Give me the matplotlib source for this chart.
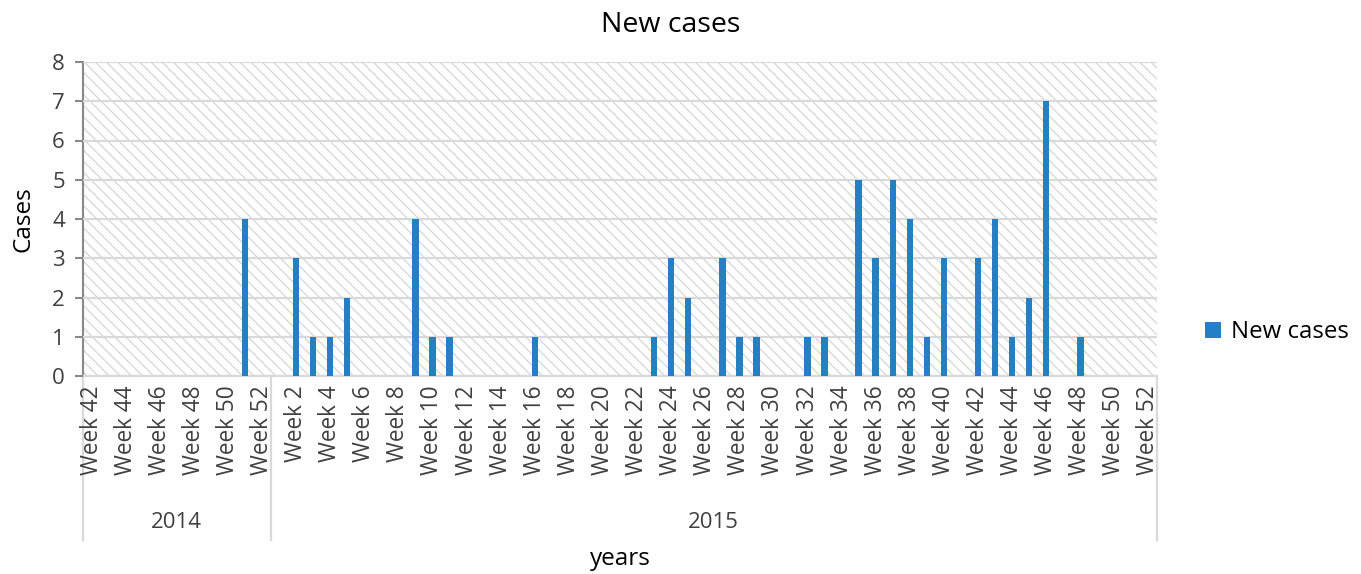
import numpy as np
import matplotlib
matplotlib.use('Agg')
import matplotlib.pyplot as plt
from matplotlib.patches import Rectangle
import matplotlib.transforms as mtransforms

# dados
semanas_2014 = [42, 43, 44, 45, 46, 47, 48, 49, 50, 51, 52]
casos_2014 = [0, 0, 0, 0, 0, 0, 0, 0, 0, 4, 0]
semanas_2015 = list(range(1, 53))
casos_2015 = [0, 3, 1, 1, 2, 0, 0, 0, 4, 1,
              1, 0, 0, 0, 0, 1, 0, 0, 0, 0,
              0, 0, 1, 3, 2, 0, 3, 1, 1, 0,
              0, 1, 1, 0, 5, 3, 5, 4, 1, 3,
              0, 3, 4, 1, 2, 7, 0, 1, 0, 0,
              0, 0]
anos = ['2014', '2015']

rotulos = ['Week %d' % s for s in semanas_2014 + semanas_2015]
casos = casos_2014 + casos_2015
x = np.arange(len(casos))

plt.rcParams['font.family'] = ['Open Sans', 'DejaVu Sans']
plt.rcParams['hatch.linewidth'] = 0.9
plt.rcParams['hatch.color'] = '#d6d6d6'

fig = plt.figure(figsize=(13.61, 5.74), dpi=100)
ax = fig.add_axes([83 / 1361, 1 - 376 / 574, (1157 - 83) / 1361, (376 - 62) / 574])

# fundo hachurado
ax.add_patch(Rectangle((0, 0), 1, 1, transform=ax.transAxes, facecolor='white',
                       edgecolor='#d6d6d6', hatch='\\\\\\', linewidth=0, zorder=0))

ax.bar(x, casos, width=0.38, color='#2580c3', label='New cases', zorder=3)

ax.set_xlim(-0.5, len(casos) - 0.5)
ax.set_ylim(0, 8)
ax.set_yticks(range(0, 9))
ax.grid(axis='y', color='#d9d9d9', linewidth=1.6, zorder=1)
ax.set_axisbelow(False)

ax.set_xticks(x[::2])
ax.set_xticklabels(rotulos[::2], rotation=90, fontsize=16.3, color='#404040')
ax.tick_params(axis='x', length=0, pad=7)
ax.tick_params(axis='y', length=6, width=1.5, color='#888888', labelsize=16,
               labelcolor='#404040', pad=7)

for lado in ['top', 'right']:
    ax.spines[lado].set_visible(False)
ax.spines['left'].set_color('#888888')
ax.spines['left'].set_linewidth(1.5)
ax.spines['bottom'].set_color('#d9d9d9')
ax.spines['bottom'].set_linewidth(1.6)

# eixo de anos (multi nivel)
trans = mtransforms.blended_transform_factory(ax.transData, ax.transAxes)
n14 = len(casos_2014)
for xs in [-0.5, n14 - 0.5, len(casos) - 0.5]:
    ax.plot([xs, xs], [0, -0.522], transform=trans, color='#d9d9d9',
            linewidth=1.6, clip_on=False)
ax.text((n14 - 1) / 2, -0.465, anos[0], transform=trans, ha='center', va='center',
        fontsize=16, color='#404040')
ax.text((n14 + len(casos) - 1) / 2, -0.465, anos[1], transform=trans, ha='center',
        va='center', fontsize=16, color='#404040')

fig.text(671 / 1361, 1 - 25 / 574, 'New cases', ha='center', va='center', fontsize=20.5)
ax.set_ylabel('Cases', fontsize=17.5, labelpad=12)
fig.text((83 + 1157) / 2 / 1361, 1 - 559 / 574, 'years', ha='center', va='center',
         fontsize=17.5)

ax.legend(loc='center left', bbox_to_anchor=(1.025, 0.14), frameon=False,
          fontsize=17.3, handlelength=0.65, handleheight=0.65, handletextpad=0.4)

plt.savefig('out.png', dpi=100)
